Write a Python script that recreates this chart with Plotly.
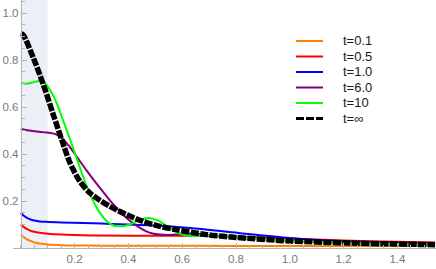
import plotly.graph_objects as go

# ---- data ----
x_orange = [0.0, 0.01, 0.02, 0.035, 0.05, 0.07, 0.1, 0.15, 0.2, 0.3, 0.5, 0.8, 1.1, 1.3, 1.54]
y_orange = [0.057, 0.047, 0.039, 0.03, 0.024, 0.019, 0.015, 0.012, 0.011, 0.010, 0.010, 0.009, 0.009, 0.008, 0.008]

x_red = [0.0, 0.01, 0.02, 0.035, 0.05, 0.07, 0.1, 0.15, 0.2, 0.3, 0.5, 0.7, 0.9, 1.1, 1.3, 1.54]
y_red = [0.099, 0.09, 0.082, 0.074, 0.069, 0.065, 0.061, 0.057, 0.055, 0.053, 0.052, 0.051, 0.045, 0.036, 0.029, 0.023]

x_blue = [0.0, 0.01, 0.02, 0.035, 0.05, 0.07, 0.1, 0.15, 0.3, 0.5, 0.63, 0.81, 1.0, 1.16, 1.3, 1.54]
y_blue = [0.149, 0.138, 0.13, 0.122, 0.117, 0.113, 0.111, 0.109, 0.104, 0.096, 0.085, 0.064, 0.043, 0.03, 0.024, 0.018]

x_purple = [0.0, 0.03, 0.06, 0.09, 0.11, 0.13, 0.146, 0.175, 0.2, 0.22, 0.245, 0.27, 0.295, 0.319, 0.344,
            0.369, 0.393, 0.418, 0.443, 0.467, 0.49, 0.517, 0.545, 0.575, 0.61, 0.65, 0.7, 0.8, 0.9, 1.0,
            1.2, 1.4, 1.54]
y_purple = [0.506, 0.500, 0.496, 0.492, 0.489, 0.484, 0.475, 0.44, 0.402, 0.369, 0.329, 0.291, 0.255, 0.22,
            0.186, 0.155, 0.128, 0.105, 0.086, 0.071, 0.062, 0.057, 0.055, 0.057, 0.061, 0.061, 0.055, 0.043,
            0.036, 0.029, 0.021, 0.016, 0.013]

x_green = [0.0, 0.02, 0.04, 0.07, 0.09, 0.11, 0.134, 0.155, 0.171, 0.19, 0.208, 0.227, 0.245, 0.264, 0.282,
           0.30, 0.319, 0.338, 0.356, 0.38, 0.405, 0.435, 0.467, 0.49, 0.517, 0.536, 0.554, 0.578, 0.603,
           0.625, 0.645, 0.67, 0.7, 0.72, 0.8, 1.0, 1.2, 1.4, 1.54]
y_green = [0.702, 0.699, 0.703, 0.711, 0.70, 0.67, 0.615, 0.55, 0.50, 0.44, 0.38, 0.318, 0.262, 0.212, 0.172,
           0.14, 0.115, 0.099, 0.093, 0.093, 0.100, 0.116, 0.127, 0.125, 0.113, 0.099, 0.085, 0.068, 0.057,
           0.052, 0.051, 0.053, 0.055, 0.054, 0.045, 0.030, 0.022, 0.017, 0.014]

x_inf = [0.0, 0.008, 0.047, 0.084, 0.121, 0.153, 0.183, 0.22, 0.257, 0.294, 0.331, 0.393, 0.455, 0.517,
         0.578, 0.69, 0.8, 1.0, 1.2, 1.4, 1.54]
y_inf = [0.912, 0.908, 0.808, 0.695, 0.567, 0.458, 0.362, 0.283, 0.234, 0.203, 0.177, 0.142, 0.113, 0.092,
         0.078, 0.057, 0.045, 0.030, 0.022, 0.017, 0.014]

series_names = ["t=0.1", "t=0.5", "t=1.0", "t=6.0", "t=10", "t=\u221e"]
series_colors = ["#FF8000", "#FF0000", "#0000FF", "#800080", "#00FF00", "#000000"]

x_tickvals = [0.2, 0.4, 0.6, 0.8, 1.0, 1.2, 1.4]
x_ticktext = ["0.2", "0.4", "0.6", "0.8", "1.0", "1.2", "1.4"]
y_tickvals = [0.2, 0.4, 0.6, 0.8, 1.0]
y_ticktext = ["0.2", "0.4", "0.6", "0.8", "1.0"]

shade_x = [0.0, 0.1]

# ---- figure ----
xs = [x_orange, x_red, x_blue, x_purple, x_green, x_inf]
ys = [y_orange, y_red, y_blue, y_purple, y_green, y_inf]

fig = go.Figure()
for i, (xv, yv) in enumerate(zip(xs, ys)):
    is_inf = i == 5
    fig.add_trace(go.Scatter(
        x=xv, y=yv, mode="lines", name=series_names[i], showlegend=False,
        line=dict(color=series_colors[i], width=5.5 if is_inf else 2,
                  dash="8px,1.5px" if is_inf else "solid", shape="spline", smoothing=0.8),
        hoverinfo="skip",
    ))

W, H = 436, 269
ML, MB = 13, 21
PW, PH = W - ML, H - MB
px_per_x = 269.0
x0_px = 20.8
xr = [-(x0_px - ML) / px_per_x, (W - x0_px) / px_per_x]
yr = [0, PH / 235.0]

axis_gray = "#b4b4b4"
label_gray = "#7a7a7a"
font_fam = "Liberation Sans, Arial, sans-serif"

shapes = [dict(type="rect", xref="x", yref="paper", x0=shade_x[0], x1=shade_x[1], y0=0, y1=1,
               fillcolor="#ECF0F6", line=dict(width=0), layer="below")]
annotations = []

# legend built from the series lists
leg_x0 = (296 - ML) / PW
leg_x1 = (323 - ML) / PW
leg_tx = (341 - ML) / PW
row_top, row_gap = 41.0, 15.5
for i, nm in enumerate(series_names):
    ypx = row_top + i * row_gap
    yp = (PH - ypx) / PH
    is_inf = i == 5
    shapes.append(dict(type="line", xref="paper", yref="paper", x0=leg_x0, x1=leg_x1, y0=yp, y1=yp,
                       line=dict(color=series_colors[i], width=3 if is_inf else 2,
                                 dash="8px,2px" if is_inf else "solid")))
    annotations.append(dict(xref="paper", yref="paper", x=leg_tx, y=yp, text=nm, showarrow=False,
                            xanchor="left", yanchor="middle",
                            font=dict(family=font_fam, size=13, color="#1a1a1a")))

fig.update_layout(
    width=W, height=H,
    margin=dict(l=ML, r=0, t=0, b=MB, pad=0),
    paper_bgcolor="white", plot_bgcolor="white",
    showlegend=False,
    shapes=shapes, annotations=annotations,
    font=dict(family=font_fam, size=11.5, color=label_gray),
    xaxis=dict(range=xr, showgrid=False, zeroline=False, showline=True, linecolor=axis_gray, linewidth=1,
               tickmode="array", tickvals=x_tickvals, ticktext=x_ticktext,
               ticks="inside", ticklen=5, tickcolor=axis_gray, tickwidth=1, automargin=False,
               minor=dict(dtick=0.05, tick0=0, ticks="inside", ticklen=3, tickcolor=axis_gray, tickwidth=1),
               tickfont=dict(family=font_fam, size=11.5, color=label_gray)),
    yaxis=dict(range=yr, anchor="free", position=(x0_px - ML) / PW, automargin=False,
               showgrid=False, zeroline=False, showline=True, linecolor=axis_gray, linewidth=1,
               tickmode="array", tickvals=y_tickvals, ticktext=y_ticktext,
               ticks="inside", ticklen=5, tickcolor=axis_gray, tickwidth=1,
               minor=dict(dtick=0.05, tick0=0, ticks="inside", ticklen=3, tickcolor=axis_gray, tickwidth=1),
               tickfont=dict(family=font_fam, size=11.5, color=label_gray)),
)

fig.write_html("out.html", config={"displayModeBar": False},
               post_script="document.body.style.margin='0';")
